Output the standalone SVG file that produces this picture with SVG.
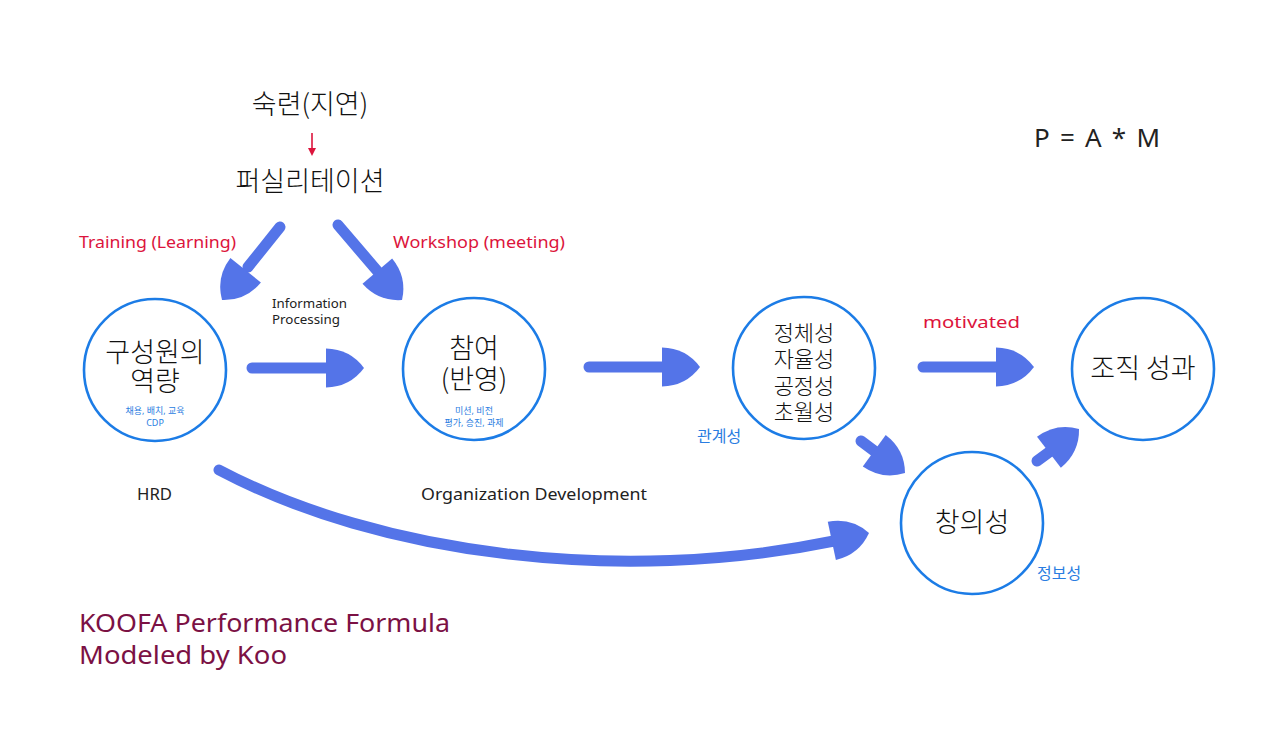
<svg xmlns="http://www.w3.org/2000/svg" xmlns:xlink="http://www.w3.org/1999/xlink" width="1280" height="745" viewBox="0 0 1280 745">
<style>
.node circle{fill:#fff;stroke:#1c7ce6;stroke-width:2.6}
.ko{font-family:"Noto Sans CJK KR","Noto Sans",sans-serif;font-weight:300;fill:#111;text-anchor:middle}
.big{font-size:27px}
.mid{font-size:22px}
.small{font-family:"Noto Sans","Noto Sans CJK KR",sans-serif;font-size:9px;fill:#2a7de1;text-anchor:middle}
.blue{font-family:"Noto Sans","Noto Sans CJK KR",sans-serif;font-size:16px;fill:#2a7de1}
.red{font-family:"Noto Sans","Noto Sans CJK KR",sans-serif;font-size:17px;fill:#dc143c}
.en{font-family:"Noto Sans","Noto Sans CJK KR",sans-serif;fill:#222}
.title{font-family:"Noto Sans","Noto Sans CJK KR",sans-serif;font-size:26px;fill:#7b1144}
.shaft{stroke:#5474e8;stroke-width:11;stroke-linecap:round;fill:none}
.head{fill:#5474e8}
</style>
<defs>
<path id="head" d="M0,0 Q-14,-19 -38,-19.5 L-38,19.5 Q-14,19 0,0 Z"/>
</defs>

<g id="connectors">
  <line class="shaft" x1="280" y1="227" x2="248" y2="267"/>
  <use href="#head" class="head" transform="translate(222,300) rotate(128.5)"/>
  <line class="shaft" x1="338" y1="225" x2="379" y2="273"/>
  <use href="#head" class="head" transform="translate(402,300) rotate(49.5)"/>
  <line class="shaft" x1="252" y1="368" x2="330" y2="368"/>
  <use href="#head" class="head" transform="translate(364,368)"/>
  <line class="shaft" x1="589" y1="367" x2="666" y2="367"/>
  <use href="#head" class="head" transform="translate(700,367)"/>
  <line class="shaft" x1="923" y1="367" x2="1000" y2="367"/>
  <use href="#head" class="head" transform="translate(1034,367)"/>
  <line class="shaft" x1="861" y1="441" x2="877" y2="453"/>
  <use href="#head" class="head" transform="translate(905,473) rotate(36)"/>
  <line class="shaft" x1="1037" y1="461" x2="1052" y2="450"/>
  <use href="#head" class="head" transform="translate(1079,429) rotate(-37.7)"/>
  <path class="shaft" d="M219,470 C380,555 620,585 834,541"/>
  <use href="#head" class="head" transform="translate(869,533) rotate(-12)"/>
  <line x1="312" y1="133" x2="312" y2="150" stroke="#dc143c" stroke-width="1.6"/>
  <path d="M308,148 L316,148 L312,156 Z" fill="#dc143c"/>
</g>

<g id="top-labels">
  <text class="ko big" x="310" y="114">숙련(지연)</text>
  <text class="ko big" x="310" y="191">퍼실리테이션</text>
  <text class="red" x="79" y="248" textLength="157" lengthAdjust="spacingAndGlyphs">Training (Learning)</text>
  <text class="red" x="393" y="248" textLength="172" lengthAdjust="spacingAndGlyphs">Workshop (meeting)</text>
  <text class="en" x="272" y="308" font-size="13" textLength="75" lengthAdjust="spacingAndGlyphs">Information</text>
  <text class="en" x="272" y="324" font-size="13" textLength="68" lengthAdjust="spacingAndGlyphs">Processing</text>
  <text class="en" x="1034" y="147" font-size="26" textLength="126" lengthAdjust="spacing">P = A * M</text>
</g>

<g id="node-competence" class="node">
  <circle cx="155" cy="370" r="71"/>
  <text class="ko big" x="155" y="362">구성원의</text>
  <text class="ko big" x="155" y="391">역량</text>
  <text class="small" x="155" y="414">채용, 배치, 교육</text>
  <text class="small" x="155" y="426">CDP</text>
</g>

<g id="node-participation" class="node">
  <circle cx="474" cy="369" r="71"/>
  <text class="ko big" x="474" y="358">참여</text>
  <text class="ko big" x="474" y="389">(반영)</text>
  <text class="small" x="474" y="414">미션, 비전</text>
  <text class="small" x="474" y="426">평가, 승진, 과제</text>
</g>

<g id="node-identity" class="node">
  <circle cx="804" cy="368" r="71"/>
  <text class="ko mid" x="804" y="341">정체성</text>
  <text class="ko mid" x="804" y="367">자율성</text>
  <text class="ko mid" x="804" y="394">공정성</text>
  <text class="ko mid" x="804" y="420">초월성</text>
</g>

<g id="node-performance" class="node">
  <circle cx="1143" cy="369" r="71"/>
  <text class="ko big" x="1143" y="378">조직 성과</text>
</g>

<g id="node-creativity" class="node">
  <circle cx="972" cy="523" r="71"/>
  <text class="ko big" x="972" y="532">창의성</text>
</g>

<g id="other-labels">
  <text class="blue" x="697" y="442">관계성</text>
  <text class="blue" x="1037" y="579">정보성</text>
  <text class="red" x="923" y="328" font-size="19" textLength="97" lengthAdjust="spacingAndGlyphs">motivated</text>
  <text class="en" x="137" y="500" font-size="16" textLength="35" lengthAdjust="spacingAndGlyphs">HRD</text>
  <text class="en" x="421" y="500" font-size="17" textLength="226" lengthAdjust="spacingAndGlyphs">Organization Development</text>
  <text class="title" x="79" y="632" textLength="371" lengthAdjust="spacingAndGlyphs">KOOFA Performance Formula</text>
  <text class="title" x="79" y="664" textLength="208" lengthAdjust="spacingAndGlyphs">Modeled by Koo</text>
</g>
</svg>
